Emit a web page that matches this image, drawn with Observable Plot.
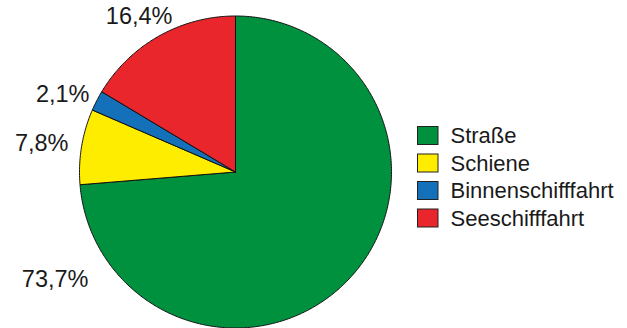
<!DOCTYPE html>
<html>
<head>
<meta charset="utf-8">
<script src="https://cdn.jsdelivr.net/npm/d3@7"></script>
<script src="https://cdn.jsdelivr.net/npm/@observablehq/plot@0.6"></script>
<style>
  html, body { margin: 0; padding: 0; background: #fff; }
  svg { display: block; }
</style>
</head>
<body>
<div id="chart"></div>
<script>
// ---- data ----
const categories = ["Straße", "Schiene", "Binnenschifffahrt", "Seeschifffahrt"];
const shares = [73.7, 7.8, 2.1, 16.4];
const labels = ["73,7%", "7,8%", "2,1%", "16,4%"];
const colors = ["#00913f", "#ffed00", "#1470b9", "#e9262b"];

// ---- layout (pixels) ----
const W = 627, H = 328;
const cx = 235, cy = 171.5, R = 156;
// label anchor (right end, vertical middle) in pixels
const labelPos = [[88, 279], [68, 143], [89, 94], [172, 16]];
const legendX1 = 417.5, legendX2 = 438, legendTextX = 450;
const legendY = [135.5, 163, 190.5, 218];
const legendBox = 18;

const ux = px => (px - cx) / R;
const uy = py => (cy - py) / R;

// slice polygons from d3.pie angles
const pie = d3.pie().sort(null).value(d => d.value)(categories.map((c, i) => ({cat: c, value: shares[i]})));
const pts = [];
for (const s of pie) {
  pts.push({cat: s.data.cat, x: 0, y: 0});
  const n = Math.max(2, Math.ceil((s.endAngle - s.startAngle) / 0.01));
  for (let k = 0; k <= n; k++) {
    const a = s.startAngle + (s.endAngle - s.startAngle) * k / n;
    pts.push({cat: s.data.cat, x: Math.sin(a), y: Math.cos(a)});
  }
  pts.push({cat: s.data.cat, x: 0, y: 0});
}

const labelData = labels.map((t, i) => ({t, x: ux(labelPos[i][0]), y: uy(labelPos[i][1])}));
const legendData = categories.map((c, i) => ({
  cat: c,
  x1: ux(legendX1), x2: ux(legendX2),
  y1: uy(legendY[i] - legendBox / 2), y2: uy(legendY[i] + legendBox / 2),
  tx: ux(legendTextX), ty: uy(legendY[i])
}));

const chart = Plot.plot({
  width: W, height: H,
  margin: 0,
  style: {fontFamily: "'Liberation Sans', Arial, Helvetica, sans-serif", background: "#fff"},
  x: {domain: [-1, 1], range: [cx - R, cx + R], axis: null},
  y: {domain: [-1, 1], range: [cy + R, cy - R], axis: null},
  color: {domain: categories, range: colors, type: "ordinal"},
  marks: [
    Plot.line(pts, {x: "x", y: "y", z: "cat", fill: "cat", stroke: "#111", strokeWidth: 1, strokeLinejoin: "miter", curve: "linear"}),
    Plot.text(labelData, {x: "x", y: "y", text: "t", textAnchor: "end", fontSize: 23.5, fill: "#1a1a1a"}),
    Plot.rect(legendData, {x1: "x1", x2: "x2", y1: "y1", y2: "y2", fill: "cat", stroke: "#222", strokeWidth: 1}),
    Plot.text(legendData, {x: "tx", y: "ty", text: "cat", textAnchor: "start", fontSize: 22, fill: "#1a1a1a"})
  ]
});
document.getElementById("chart").appendChild(chart);
</script>
</body>
</html>
